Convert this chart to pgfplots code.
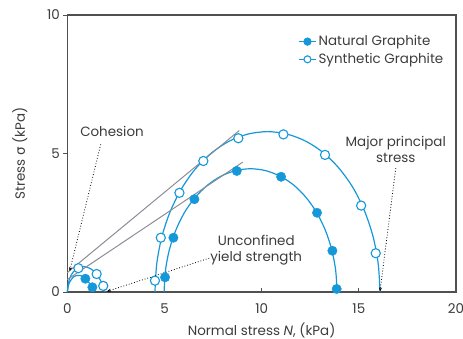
\documentclass[border=0pt]{standalone}
\usepackage{fontspec}
\setmainfont{Poppins}
\newfontfamily\greekfont{DejaVu Sans}
\usepackage{pgfplots}
\pgfplotsset{compat=1.18}
\usetikzlibrary{arrows.meta}
\definecolor{mblue}{RGB}{20,152,218}
\definecolor{tgray}{RGB}{60,60,60}
\definecolor{lgray}{RGB}{140,140,150}
\definecolor{agray}{RGB}{80,80,80}
\newcommand{\tfont}{\fontsize{13.5}{16}\selectfont}
\begin{document}
\begin{tikzpicture}
\begin{axis}[
  scale only axis, width=388.7bp, height=277bp,
  xmin=0, xmax=20, ymin=0, ymax=10,
  xtick={0,5,10,15,20}, ytick={0,5,10},
  tick pos=left, tick align=inside, major tick length=4bp,
  y tick style={xshift=-4bp},
  axis line style={agray, line width=1.2bp},
  tick style={agray, line width=0.8bp},
  yticklabel style={font=\tfont, text=tgray, xshift=-4bp},
  xticklabel style={font=\tfont, text=tgray, yshift=-8bp},
  /pgf/number format/assume math mode=true,
  xlabel={Normal stress \textit{N}, (kPa)},
  ylabel={Stress {\greekfont σ} (kPa)},
  xlabel style={font=\tfont, text=tgray, at={(axis description cs:0.5,-0.138)}, anchor=center},
  ylabel style={font=\tfont, text=tgray, at={(axis description cs:-0.122,0.5)}, anchor=center},
  clip=false,
  legend style={draw=none, fill=none, at={(0.594,0.933)}, anchor=north west,
    font=\tfont, text=tgray, row sep=2bp, inner sep=0pt, cells={anchor=west}},
]
\addlegendimage{mblue, line width=1.2bp, mark=*, mark size=3.5bp}
\addlegendentry{Natural Graphite}
\addlegendimage{mblue, line width=1.2bp, mark=*, mark size=3.5bp, mark options={fill=white, line width=1.1bp}}
\addlegendentry{Synthetic Graphite}

% Natural graphite, large circle
\addplot[mblue, line width=1.2bp, smooth, forget plot] coordinates {
(4.98,0) (5.05,0.773) (5.25,1.522) (5.58,2.225) (6.02,2.860) (6.57,3.409)
(7.21,3.854) (7.91,4.182) (8.66,4.382) (9.43,4.45) (10.20,4.382) (10.95,4.182)
(11.66,3.854) (12.29,3.409) (12.84,2.860) (13.28,2.225) (13.61,1.522) (13.81,0.773) (13.88,0)};
% Synthetic graphite, large circle
\addplot[mblue, line width=1.2bp, smooth, forget plot] coordinates {
(4.51,0) (4.60,1.005) (4.86,1.98) (5.29,2.895) (5.87,3.72) (6.58,4.435)
(7.41,5.014) (8.32,5.441) (9.30,5.702) (10.3,5.79) (11.30,5.702) (12.28,5.441)
(13.20,5.014) (14.02,4.435) (14.74,3.72) (15.31,2.895) (15.74,1.98) (16.00,1.005) (16.09,0)};
% Synthetic graphite, small
\addplot[mblue, line width=1.2bp, smooth, forget plot] coordinates {
(0,0) (0.1,0.45) (0.3,0.72) (0.57,0.86) (0.85,0.92) (1.2,0.84) (1.51,0.65) (1.78,0.32) (1.94,0)};
% Natural graphite, small
\addplot[mblue, line width=1.2bp, smooth, forget plot] coordinates {
(0,0) (0.1,0.33) (0.35,0.56) (0.65,0.6) (0.93,0.48) (1.2,0.26) (1.36,0)};

% markers natural
\addplot[only marks, mark=*, mblue, mark size=4.7bp, forget plot] coordinates {
(5.03,0.53) (5.46,1.96) (6.54,3.35) (8.72,4.37) (11.0,4.16) (12.85,2.86) (13.64,1.49) (13.86,0.11)
(0.93,0.48) (1.29,0.17)};
% markers synthetic
\addplot[only marks, mark=*, mark size=4.6bp, mark options={fill=white, draw=mblue, line width=1.1bp}, forget plot] coordinates {
(4.51,0.41) (4.81,1.96) (5.77,3.58) (7.0,4.73) (8.80,5.55) (11.12,5.69) (13.26,4.95) (15.12,3.12) (15.87,1.40)
(0.57,0.86) (1.51,0.65) (1.85,0.22)};

% tangent lines
\addplot[lgray, line width=1bp, forget plot] coordinates {(0,0.7) (8.85,5.83)};
\addplot[lgray, line width=1bp, forget plot] coordinates {(0,0.45) (9.03,4.69)};

% annotations
\draw[dotted, black, line width=0.8bp, -{Stealth[length=4bp,width=3bp]}] (axis cs:1.72,5.33) -- (axis cs:0.12,0.75);
\draw[dotted, black, line width=0.8bp, -{Stealth[length=4bp,width=3bp]}] (axis cs:7.3,1.22) -- (axis cs:2.03,0.02);
\draw[dotted, black, line width=0.8bp, -{Stealth[length=4bp,width=3bp]}] (axis cs:16.9,4.47) -- (axis cs:16.09,0.02);
\node[font=\tfont, text=tgray] at (axis cs:2.3,5.81) {Cohesion};
\node[font=\tfont, text=tgray, align=center] at (axis cs:16.9,5.16) {Major principal\\stress};
\node[font=\tfont, text=tgray, align=center] at (axis cs:9.72,1.52) {Unconfined\\yield strength};
\end{axis}
\pgfresetboundingbox
\useasboundingbox (current axis.south west) ++(-67.3bp,-47bp) rectangle ++(463bp,339bp);
\end{tikzpicture}
\end{document}
